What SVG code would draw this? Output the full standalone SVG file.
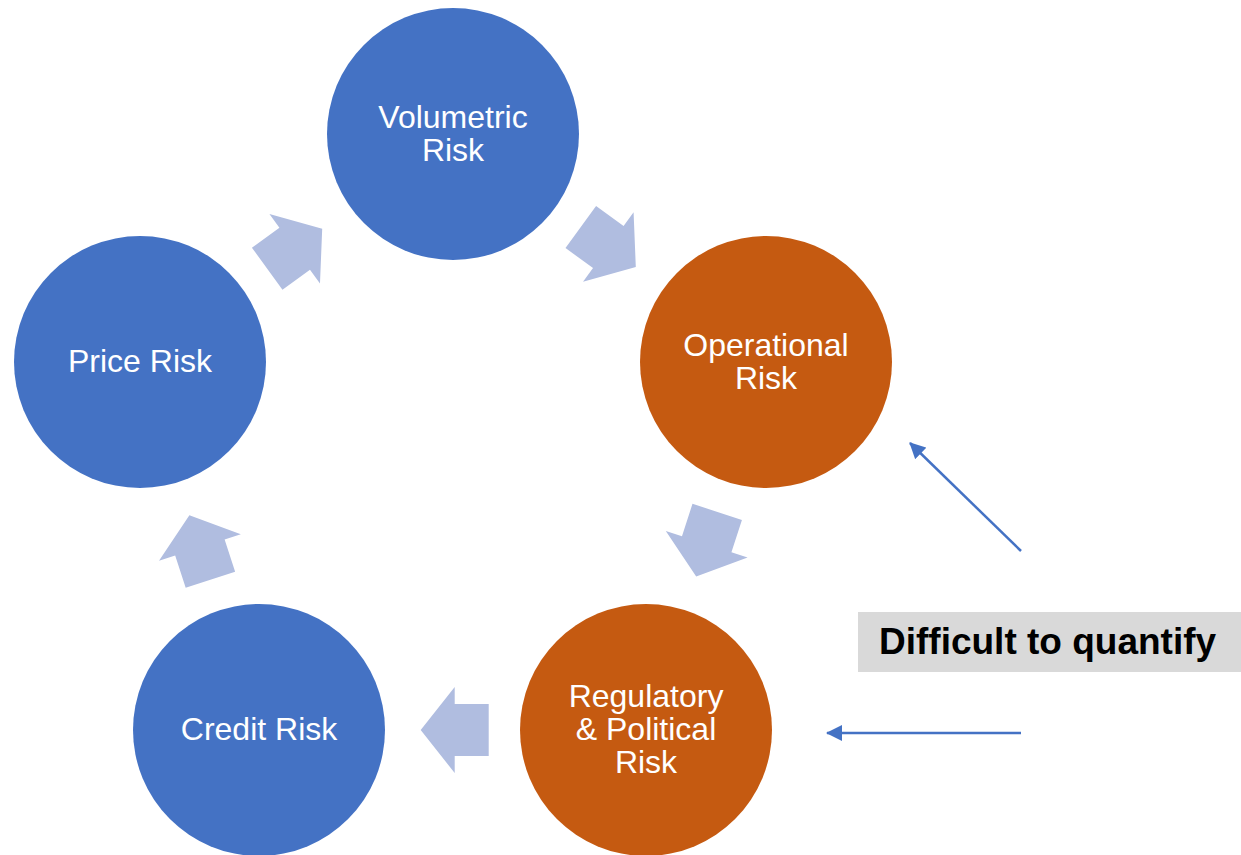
<svg xmlns="http://www.w3.org/2000/svg" xmlns:xlink="http://www.w3.org/1999/xlink" width="1241" height="855" viewBox="0 0 1241 855">
<style>
.blue{fill:#4472c4}
.orange{fill:#c55a11}
.lbl{font-family:"Liberation Sans",Arial,sans-serif;font-size:32px;fill:#ffffff;text-anchor:middle}
.blk{fill:#b0bde0}
.conn{stroke:#4472c4;stroke-width:2.5;fill:none}
</style>
<defs>
<polygon id="blockArrow" class="blk" points="-34,-26 0,-26 0,-43 34,0 0,43 0,26 -34,26"/>
<marker id="ah" markerWidth="16" markerHeight="16" viewBox="0 0 16 16" refX="15" refY="8" orient="auto" markerUnits="userSpaceOnUse">
<polygon points="0,0 16,8 0,16" fill="#4472c4"/>
</marker>
</defs>
<rect width="1241" height="855" fill="#ffffff"/>
<g id="cycle-arrows">
<use xlink:href="#blockArrow" transform="translate(294.7,248.7) rotate(-36)"/>
<use xlink:href="#blockArrow" transform="translate(608.3,247) rotate(36)"/>
<use xlink:href="#blockArrow" transform="translate(706.7,544.2) rotate(108)"/>
<use xlink:href="#blockArrow" transform="translate(454.7,730) rotate(180)"/>
<use xlink:href="#blockArrow" transform="translate(199.9,547.5) rotate(252)"/>
</g>
<g id="node-volumetric">
<circle class="blue" cx="453" cy="134" r="126"/>
<text class="lbl" x="453" y="128">Volumetric</text>
<text class="lbl" x="453" y="161">Risk</text>
</g>
<g id="node-operational">
<circle class="orange" cx="766" cy="362" r="126"/>
<text class="lbl" x="766" y="356">Operational</text>
<text class="lbl" x="766" y="389">Risk</text>
</g>
<g id="node-regulatory">
<circle class="orange" cx="646" cy="730" r="126"/>
<text class="lbl" x="646" y="707">Regulatory</text>
<text class="lbl" x="646" y="740">&amp; Political</text>
<text class="lbl" x="646" y="773">Risk</text>
</g>
<g id="node-credit">
<circle class="blue" cx="259" cy="730" r="126"/>
<text class="lbl" x="259" y="740">Credit Risk</text>
</g>
<g id="node-price">
<circle class="blue" cx="140" cy="362" r="126"/>
<text class="lbl" x="140" y="372">Price Risk</text>
</g>
<g id="node-difficult">
<rect x="858" y="612" width="383" height="60" fill="#d9d9d9"/>
<text x="879" y="654" font-family="Liberation Sans, Arial, sans-serif" font-size="37" font-weight="bold" fill="#000000">Difficult to quantify</text>
</g>
<g id="connectors">
<line class="conn" x1="1021" y1="551" x2="910" y2="443" marker-end="url(#ah)"/>
<line class="conn" x1="1021" y1="733" x2="827" y2="733" marker-end="url(#ah)"/>
</g>
</svg>
